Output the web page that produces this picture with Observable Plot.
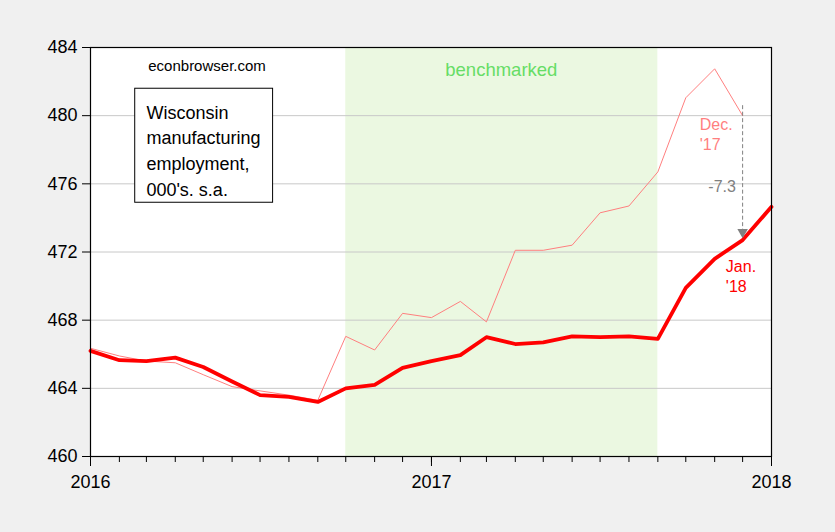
<!DOCTYPE html>
<html>
<head>
<meta charset="utf-8">
<script src="https://cdn.jsdelivr.net/npm/d3@7"></script>
<script src="https://cdn.jsdelivr.net/npm/@observablehq/plot@0.6"></script>
<style>
  html, body { margin: 0; padding: 0; background: #f0f0f0; }
  #chart svg { display: block; }
</style>
</head>
<body>
<div id="chart"></div>
<script>
// ---- data ----
const startMonth = "2016-01";
const endMonth = "2018-01";
// Wisconsin manufacturing employment, 000's s.a., Jan. '18 release (2016-01 .. 2018-01)
const jan18 = [466.2, 465.65, 465.6, 465.8, 465.25, 464.4, 463.6, 463.5, 463.2, 464.0, 464.2, 465.2,
               465.6, 465.95, 467.0, 466.6, 466.7, 467.05, 467.0, 467.05, 466.9, 469.9, 471.6, 472.7, 474.65];
// Dec. '17 release (2016-01 .. 2017-12)
const dec17 = [466.35, 465.9, 465.6, 465.5, 464.8, 464.1, 463.85, 463.6, 463.3, 467.05, 466.25, 468.4,
               468.15, 469.1, 467.9, 472.1, 472.1, 472.4, 474.3, 474.7, 476.7, 481.05, 482.75, 480.0];
const benchmarkPeriod = ["2016-10", "2017-09"];
const yTicks = [460, 464, 468, 472, 476, 480, 484];
const xTickLabels = ["2016", "2017", "2018"];
const revisionText = ["-7.3"];
const yDomain = [460, 484];

// ---- helpers ----
const parse = s => new Date(s + (s.length === 7 ? "-01" : "") + "T00:00:00Z");
const months = d3.utcMonth.range(parse(startMonth), d3.utcMonth.offset(parse(endMonth), 1));
const jan18Data = jan18.map((v, i) => ({date: months[i], value: v}));
const dec17Data = dec17.map((v, i) => ({date: months[i], value: v}));
const yearTicks = xTickLabels.map(y => parse(y + "-01"));
const bench = [{x1: parse(benchmarkPeriod[0]), x2: parse(benchmarkPeriod[1])}];
const innerGrid = yTicks.slice(1, -1);

// annotation anchors (data space)
const decLast = dec17Data[dec17Data.length - 1];
const janAtDec = jan18Data[dec17Data.length - 1];
const revision = [{date: decLast.date, y1: decLast.value, y2: janAtDec.value}];

const font = "'Liberation Sans', Arial, Helvetica, sans-serif";

const chart = Plot.plot({
  width: 835,
  height: 532,
  marginTop: 47,
  marginRight: 64,
  marginBottom: 76,
  marginLeft: 90,
  style: {background: "#f0f0f0", fontFamily: font, color: "black", overflow: "visible"},
  x: {type: "utc", domain: [parse(startMonth), parse(endMonth)]},
  y: {domain: yDomain},
  marks: [
    Plot.frame({fill: "white", stroke: null}),
    Plot.rect(bench, {x1: "x1", x2: "x2", fill: "#ebf8e1"}),
    Plot.gridY(innerGrid, {stroke: "#c8c8c8", strokeOpacity: 1, strokeWidth: 1}),
    Plot.line(dec17Data, {x: "date", y: "value", stroke: "#ff7f7f", strokeWidth: 1}),
    Plot.line(jan18Data, {x: "date", y: "value", stroke: "#ff0000", strokeWidth: 3.8, strokeLinejoin: "round"}),
    // revision arrow
    Plot.ruleX(revision, {x: "date", y1: "y1", y2: "y2", stroke: "#808080", strokeWidth: 1, strokeDasharray: "4,2.5", dy: -10}),
    Plot.dot(revision, {x: "date", y: "y2", symbol: "triangle", rotate: 180, r: 3.9, fill: "#808080", stroke: null, dy: -8}),
    Plot.text(revisionText, {x: parse("2017-11-09"), y: 475.5, text: d => d, fill: "#7f8080", fontSize: 16, textAnchor: "middle", lineAnchor: "bottom"}),
    Plot.text(["Dec.\n'17"], {x: parse("2017-10-16"), y: 479.23, text: d => d, fill: "#ff7f7f", fontSize: 16, textAnchor: "start", lineAnchor: "top", lineHeight: 1.25, dy: -13}),
    Plot.text(["Jan.\n'18"], {x: parse("2017-11-13"), y: 470.95, text: d => d, fill: "#ff0000", fontSize: 16, textAnchor: "start", lineAnchor: "top", lineHeight: 1.25, dy: -12}),
    Plot.text(["benchmarked"], {x: parse("2017-03-17"), y: 482.32, text: d => d, fill: "#66dd66", fontSize: 18.5, textAnchor: "middle", lineAnchor: "bottom"}),
    Plot.text(["econbrowser.com"], {x: parse("2016-03-03"), y: 482.61, text: d => d, fill: "black", fontSize: 15, textAnchor: "start", lineAnchor: "bottom"}),
    // description box
    Plot.rect([{x1: parse("2016-02-18"), x2: parse("2016-07-15"), y1: 474.89, y2: 481.58}], {x1: "x1", x2: "x2", y1: "y1", y2: "y2", fill: "white", stroke: "black", strokeWidth: 1}),
    Plot.text(["Wisconsin\nmanufacturing\nemployment,\n000's. s.a."], {x: parse("2016-03-01"), y: 480.11, text: d => d, fill: "black", fontSize: 18, textAnchor: "start", lineAnchor: "top", lineHeight: 1.42, dy: -13}),
    Plot.frame({stroke: "black", strokeWidth: 1.2}),
    Plot.axisY({ticks: yTicks, tickSize: 8, tickPadding: 5, fontSize: 18, label: null}),
    Plot.axisX({ticks: months, tickSize: 6, tickFormat: () => "", label: null}),
    Plot.axisX({ticks: yearTicks, tickSize: 10, tickPadding: 9, fontSize: 18, label: null,
                tickFormat: d => xTickLabels[yearTicks.findIndex(t => +t === +d)]})
  ]
});
document.getElementById("chart").appendChild(chart);
</script>
</body>
</html>
